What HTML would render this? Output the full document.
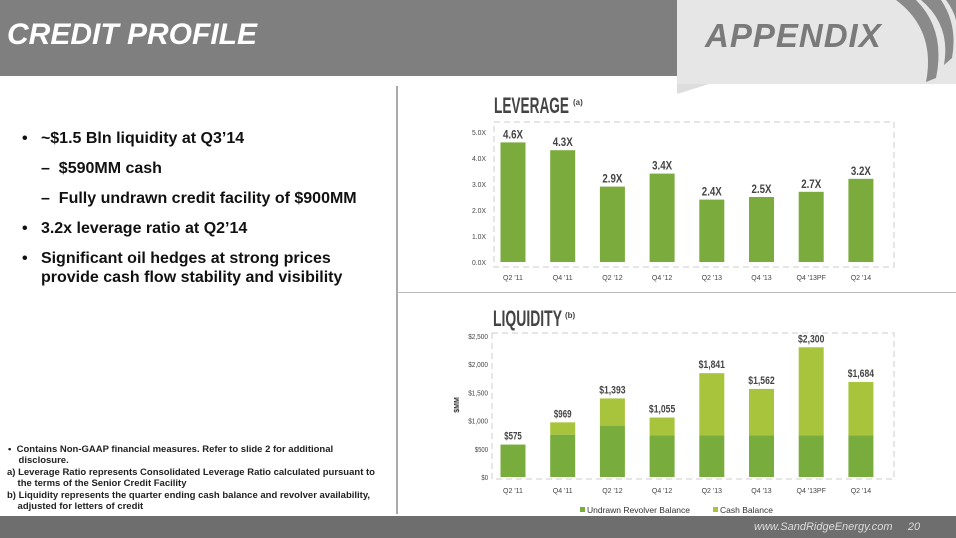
<!DOCTYPE html>
<html><head><meta charset="utf-8"><style>
body{margin:0;width:956px;height:538px;overflow:hidden;background:#fff;font-family:"Liberation Sans",sans-serif;position:relative}
.abs{position:absolute}
.b{font-weight:bold;color:#111;font-size:16px;position:absolute}
.fn{position:absolute;font-size:9.5px;font-weight:bold;color:#222;line-height:11px}
</style></head><body>
<div class="abs" style="left:0;top:0;width:956px;height:76px;background:#7f7f7f"></div>
<div class="abs" style="left:7px;top:18px;color:#fff;font-size:30px;font-weight:bold;font-style:italic">CREDIT PROFILE</div>
<div class="abs" style="left:677px;top:0;width:279px;height:84px;background:#e6e6e6"></div>
<div class="abs" style="left:677px;top:84px;width:0;height:0;border-top:10px solid #ddd;border right:32px solid transparent;border-right:32px solid transparent"></div>
<div class="abs" style="left:705px;top:17px;color:#7a7a7a;font-size:33px;font-weight:bold;font-style:italic;letter-spacing:1px">APPENDIX</div>
<svg class="abs" style="left:896px;top:0" width="60" height="84"><path d="M0 0 Q40 30 30 82 L40 78 Q50 30 20 0Z M25 0 Q55 25 48 65 L56 58 Q62 25 45 0Z M50 0 Q65 20 60 40 L60 0Z" fill="#8a8a8a"/></svg>
<div class="abs" style="left:396px;top:86px;width:2px;height:428px;background:#aaa"></div>
<div class="abs" style="left:397px;top:292px;width:559px;height:1px;background:#bbb"></div>
<div>
<div class="b" style="left:22px;top:130px">•&nbsp;&nbsp;&nbsp;~$1.5 Bln liquidity at Q3’14</div>
<div class="b" style="left:41px;top:160px">–&nbsp;&nbsp;$590MM cash</div>
<div class="b" style="left:41px;top:190px">–&nbsp;&nbsp;Fully undrawn credit facility of $900MM</div>
<div class="b" style="left:22px;top:220px">•&nbsp;&nbsp;&nbsp;3.2x leverage ratio at Q2’14</div>
<div class="b" style="left:22px;top:250px">•&nbsp;&nbsp;&nbsp;Significant oil hedges at strong prices</div>
<div class="b" style="left:41px;top:269px">provide cash flow stability and visibility</div>
</div>
<div>
<div class="fn" style="left:8px;top:444px">•&nbsp;&nbsp;Contains Non-GAAP financial measures. Refer to slide 2 for additional<br>&nbsp;&nbsp;&nbsp;&nbsp;disclosure.</div>
<div class="fn" style="left:7px;top:467px">a)&nbsp;Leverage Ratio represents Consolidated Leverage Ratio calculated pursuant to<br>&nbsp;&nbsp;&nbsp;&nbsp;the terms of the Senior Credit Facility</div>
<div class="fn" style="left:7px;top:490px">b)&nbsp;Liquidity represents the quarter ending cash balance and revolver availability,<br>&nbsp;&nbsp;&nbsp;&nbsp;adjusted for letters of credit</div>
</div>
<div class="abs" style="left:0;top:516px;width:956px;height:22px;background:#6e6e6e"></div>
<div class="abs" style="left:754px;top:521px;color:#ddd;font-size:11px;font-style:italic">www.SandRidgeEnergy.com &nbsp;&nbsp;&nbsp; 20</div>

<svg id="chart" class="abs" style="left:0;top:0" width="956" height="538"></svg>
<script>
const categories=["Q2 '11","Q4 '11","Q2 '12","Q4 '12","Q2 '13","Q4 '13","Q4 '13PF","Q2 '14"];
const leverageValues=[4.6,4.3,2.9,3.4,2.4,2.5,2.7,3.2];
const leverageLabels=["4.6X","4.3X","2.9X","3.4X","2.4X","2.5X","2.7X","3.2X"];
const leverageTicks=[0,1,2,3,4,5];
const liquidityTotals=[575,969,1393,1055,1841,1562,2300,1684];
const undrawnValues=[575,750,910,740,740,740,740,740];
const liquidityLabels=["$575","$969","$1,393","$1,055","$1,841","$1,562","$2,300","$1,684"];
const liquidityTicks=[0,500,1000,1500,2000,2500];
const svg=document.getElementById('chart');
const NS='http://www.w3.org/2000/svg';
function el(t,a,txt){const e=document.createElementNS(NS,t);for(const k in a)e.setAttribute(k,a[k]);if(txt!==undefined)e.textContent=txt;svg.appendChild(e);return e;}
const xc=i=>513+i*49.7;
const yL=v=>262-v*26;
const yQ=v=>477-v*0.0564;
const font='"Liberation Sans",sans-serif';
const SQ='spacingAndGlyphs';
let t=el('text',{x:494,y:113,'font-size':22,'font-weight':'bold',fill:'#444','font-family':font,textLength:75,lengthAdjust:SQ},'LEVERAGE');

t=el('text',{x:573,y:105,'font-size':8,'font-weight':'bold',fill:'#444','font-family':font},'(a)');

t=el('text',{x:493,y:326,'font-size':22,'font-weight':'bold',fill:'#444','font-family':font,textLength:69,lengthAdjust:SQ},'LIQUIDITY');

t=el('text',{x:565,y:318,'font-size':8,'font-weight':'bold',fill:'#444','font-family':font},'(b)');

let r=el('rect',{x:494,y:122,width:400,height:145,fill:'none',stroke:'#ccc','stroke-dasharray':'6,4'});

leverageTicks.forEach(v=>{const e=el('text',{x:486,y:yL(v)+3,'font-size':7,fill:'#444','text-anchor':'end','font-family':font,textLength:14,lengthAdjust:SQ},v.toFixed(1)+'X');
});
leverageValues.forEach((v,i)=>{
const b=el('rect',{x:xc(i)-12.5,y:yL(v),width:25,height:yL(0)-yL(v),fill:'#7aab3c'});

const l=el('text',{x:xc(i),y:yL(v)-4,'font-size':12,'font-weight':'bold',fill:'#444','text-anchor':'middle','font-family':font,textLength:20,lengthAdjust:SQ},leverageLabels[i]);

const c=el('text',{x:xc(i),y:280,'font-size':7,fill:'#444','text-anchor':'middle','font-family':font},categories[i]);

});
r=el('rect',{x:492,y:333,width:402,height:146,fill:'none',stroke:'#ccc','stroke-dasharray':'6,4'});

liquidityTicks.forEach(v=>{const s='$'+v.toLocaleString('en-US');const e=el('text',{x:488,y:yQ(v)+3,'font-size':7,fill:'#444','text-anchor':'end','font-family':font,textLength:s.length*3.3,lengthAdjust:SQ},s);
});
t=el('text',{x:0,y:0,'font-size':7,'font-weight':'bold',fill:'#333','text-anchor':'middle',transform:'translate(459,405) rotate(-90)','font-family':font},'$MM');

liquidityTotals.forEach((v,i)=>{
const u=Math.min(undrawnValues[i],v);
const c1=el('rect',{x:xc(i)-12.5,y:yQ(v),width:25,height:yQ(u)-yQ(v),fill:'#a8c43c'});

const b=el('rect',{x:xc(i)-12.5,y:yQ(u),width:25,height:yQ(0)-yQ(u),fill:'#78ac3c'});

const s=liquidityLabels[i];
const l=el('text',{x:xc(i),y:yQ(v)-5,'font-size':11,'font-weight':'bold',fill:'#444','text-anchor':'middle','font-family':font,textLength:s.length*4.4,lengthAdjust:SQ},s);

const c=el('text',{x:xc(i),y:493,'font-size':7,fill:'#444','text-anchor':'middle','font-family':font},categories[i]);

});
let lg=el('rect',{x:580,y:507,width:5,height:5,fill:'#78ac3c'});

lg=el('text',{x:587,y:513,'font-size':8.5,fill:'#333','font-family':font},'Undrawn Revolver Balance');

lg=el('rect',{x:713,y:507,width:5,height:5,fill:'#a8c43c'});

lg=el('text',{x:720,y:513,'font-size':8.5,fill:'#333','font-family':font},'Cash Balance');

</script>
</body></html>
